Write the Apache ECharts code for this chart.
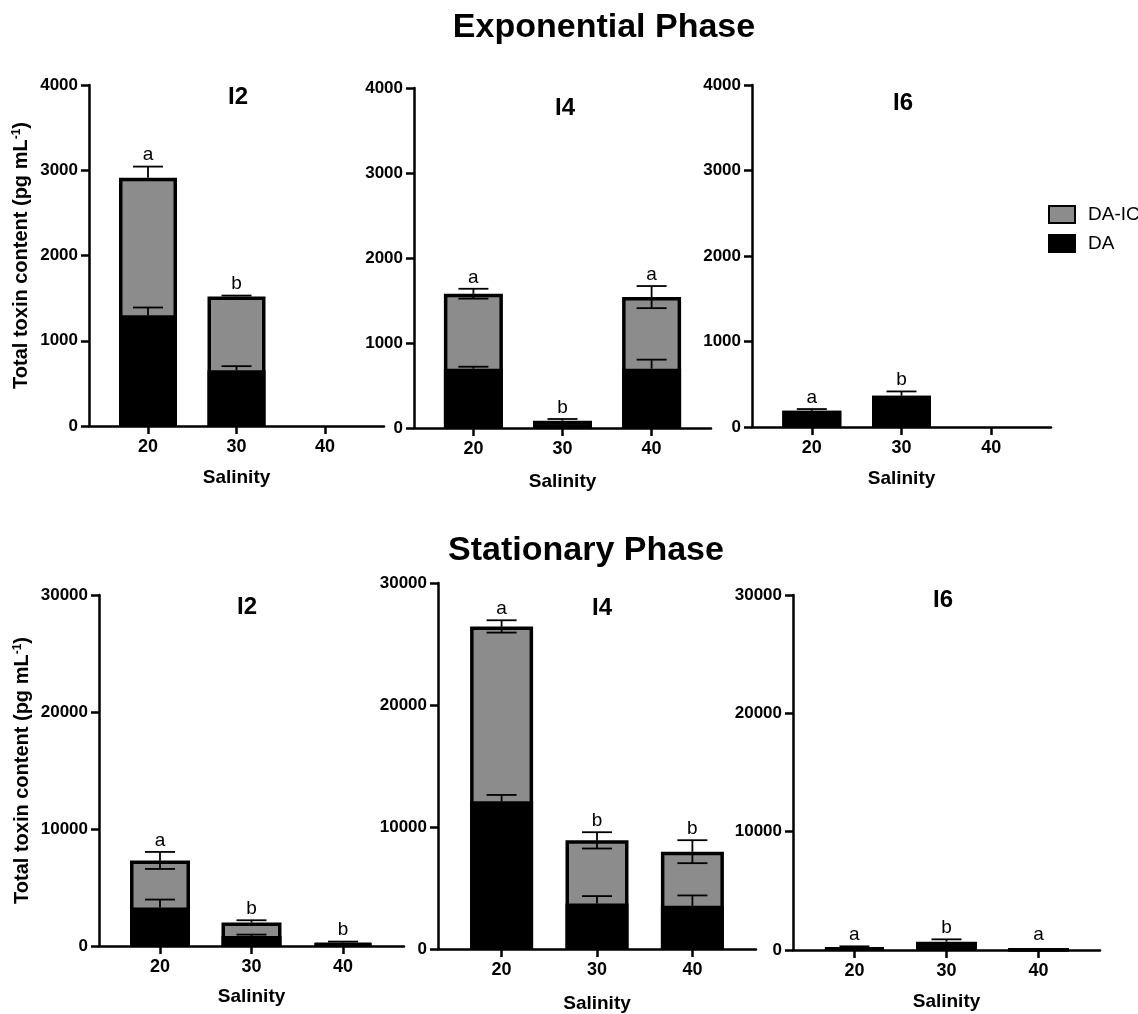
<!DOCTYPE html>
<html><head><meta charset="utf-8">
<script src="https://cdn.jsdelivr.net/npm/echarts@6/dist/echarts.min.js"></script>
<style>html,body{margin:0;padding:0;background:#fff}#c{width:1138px;height:1014px}</style>
</head><body><div id="c"></div>
<script>
// ---------- data ----------
const salinity = [20, 30, 40];
const panelNames = ['I2', 'I4', 'I6'];
const phaseTitles = ['Exponential Phase', 'Stationary Phase'];
const expTicks = [0, 1000, 2000, 3000, 4000];
const statTicks = [0, 10000, 20000, 30000];

// Exponential phase
const expI2_DA = [1300, 655, 0];
const expI2_DAIC = [1613, 865, 0];
const expI2_errUp = [130, 10, 0];
const expI2_errDown = [0, 0, 0];
const expI2_daErr = [90, 47, 0];
const expI2_letters = ['a', 'b', ''];

const expI4_DA = [698, 45, 698];
const expI4_DAIC = [882, 41, 842];
const expI4_errUp = [58, 20, 130];
const expI4_errDown = [58, 0, 130];
const expI4_daErr = [23, 0, 106];
const expI4_letters = ['a', 'b', 'a'];

const expI6_DA = [190, 366, 0];
const expI6_DAIC = [0, 0, 0];
const expI6_errUp = [20, 50, 0];
const expI6_errDown = [0, 0, 0];
const expI6_daErr = [0, 0, 0];
const expI6_letters = ['a', 'b', ''];

// Stationary phase
const statI2_DA = [3285, 855, 230];
const statI2_DAIC = [4028, 1145, 60];
const statI2_errUp = [727, 200, 86];
const statI2_errDown = [727, 0, 0];
const statI2_daErr = [684, 120, 0];
const statI2_letters = ['a', 'b', 'b'];

const statI4_DA = [12109, 3736, 3545];
const statI4_DAIC = [14331, 5169, 4432];
const statI4_errUp = [505, 668, 941];
const statI4_errDown = [505, 668, 941];
const statI4_daErr = [518, 600, 845];
const statI4_letters = ['a', 'b', 'b'];

const statI6_DA = [160, 650, 30];
const statI6_DAIC = [40, 54, 0];
const statI6_errUp = [110, 197, 0];
const statI6_errDown = [0, 0, 0];
const statI6_daErr = [0, 0, 0];
const statI6_letters = ['a', 'b', 'a'];

// ---------- assembly ----------
const panels = [
  {DA: expI2_DA, DAIC: expI2_DAIC, up: expI2_errUp, down: expI2_errDown, daErr: expI2_daErr, letters: expI2_letters, ticks: expTicks},
  {DA: expI4_DA, DAIC: expI4_DAIC, up: expI4_errUp, down: expI4_errDown, daErr: expI4_daErr, letters: expI4_letters, ticks: expTicks},
  {DA: expI6_DA, DAIC: expI6_DAIC, up: expI6_errUp, down: expI6_errDown, daErr: expI6_daErr, letters: expI6_letters, ticks: expTicks},
  {DA: statI2_DA, DAIC: statI2_DAIC, up: statI2_errUp, down: statI2_errDown, daErr: statI2_daErr, letters: statI2_letters, ticks: statTicks},
  {DA: statI4_DA, DAIC: statI4_DAIC, up: statI4_errUp, down: statI4_errDown, daErr: statI4_daErr, letters: statI4_letters, ticks: statTicks},
  {DA: statI6_DA, DAIC: statI6_DAIC, up: statI6_errUp, down: statI6_errDown, daErr: statI6_daErr, letters: statI6_letters, ticks: statTicks}
];

// layout (pixels)
const gridBoxes = [[89, 85, 295, 341], [414, 88, 297, 340], [752, 85, 299, 342],
                   [99, 595, 305, 351], [438, 583, 318, 367], [793, 595, 307, 355]];
const panelTitlePos = [[238, 97], [565, 108], [903, 103], [247, 607], [602, 608], [943, 600]];
const xNameGaps = [42, 44, 42, 41, 45, 42];
const FONT = '"Liberation Sans", Arial, Helvetica, sans-serif';
const GRAY = '#8c8c8c';
const X_MIN = 40 / 3, X_MAX = 140 / 3;

const grid = [], xAxis = [], yAxis = [], series = [], graphic = [];

graphic.push({type: 'text', x: 604, y: 28, style: {text: phaseTitles[0], align: 'center', verticalAlign: 'middle', font: 'bold 34px ' + FONT, fill: '#000'}});
graphic.push({type: 'text', x: 586, y: 551, style: {text: phaseTitles[1], align: 'center', verticalAlign: 'middle', font: 'bold 34px ' + FONT, fill: '#000'}});

panels.forEach((p, i) => {
  const [gl, gt, gw, gh] = gridBoxes[i];
  grid.push({left: gl, top: gt, width: gw, height: gh, containLabel: false});
  const spacing = gw * 10 / (X_MAX - X_MIN);
  const bw = Math.round(spacing * 0.66);
  const maxV = p.ticks[p.ticks.length - 1];
  const step = p.ticks[1] - p.ticks[0];

  xAxis.push({
    type: 'value', gridIndex: i, min: X_MIN, max: X_MAX,
    name: 'Salinity', nameLocation: 'middle', nameGap: xNameGaps[i],
    nameTextStyle: {fontFamily: FONT, fontWeight: 'bold', fontSize: 19, color: '#000'},
    axisLine: {show: true, lineStyle: {color: '#000', width: 2.5}},
    axisTick: {show: true, length: 8, lineStyle: {color: '#000', width: 2.5}, customValues: salinity},
    axisLabel: {show: true, customValues: salinity, margin: 12, fontFamily: FONT, fontWeight: 'bold', fontSize: 18, color: '#000', formatter: v => String(v)},
    splitLine: {show: false}
  });

  const y = {
    type: 'value', gridIndex: i, min: 0, max: maxV, interval: step,
    axisLine: {show: true, lineStyle: {color: '#000', width: 2.5}},
    axisTick: {show: true, length: 8, lineStyle: {color: '#000', width: 2.5}},
    axisLabel: {margin: 11, fontFamily: FONT, fontWeight: 'bold', fontSize: 17, color: '#000', formatter: v => String(v)},
    splitLine: {show: false}
  };
  if (i % 3 === 0) {
    y.name = 'Total toxin content (pg mL{sup|-1})';
    y.nameLocation = 'middle';
    y.nameRotate = 90;
    y.nameGap = i === 0 ? 58 : 67;
    y.nameTextStyle = {fontFamily: FONT, fontWeight: 'bold', fontSize: 20, color: '#000',
      rich: {sup: {fontFamily: FONT, fontWeight: 'bold', fontSize: 12, color: '#000', verticalAlign: 'top'}}};
  }
  yAxis.push(y);

  const totals = salinity.map((s, k) => p.DA[k] + p.DAIC[k]);
  series.push({
    type: 'bar', name: 'DA-IC', xAxisIndex: i, yAxisIndex: i, barWidth: bw, barGap: '-100%',
    data: salinity.map((s, k) => [s, totals[k] > 0 ? totals[k] : '-']),
    itemStyle: {color: GRAY, borderColor: '#000', borderWidth: 3.5}, silent: true
  });
  series.push({
    type: 'bar', name: 'DA', xAxisIndex: i, yAxisIndex: i, barWidth: bw, barGap: '-100%',
    data: salinity.map((s, k) => [s, p.DA[k] > 0 ? p.DA[k] : '-']),
    itemStyle: {color: '#000', borderColor: '#000', borderWidth: 3.5}, silent: true
  });

  // error bars + significance letters
  series.push({
    type: 'custom', name: 'err' + i, xAxisIndex: i, yAxisIndex: i, z: 5, silent: true,
    data: salinity.map((s, k) => [s, totals[k], p.up[k], p.down[k], p.DA[k], p.daErr[k]]),
    encode: {x: 0, y: 1},
    renderItem: (params, api) => {
      const k = params.dataIndex;
      const x = api.value(0), tot = api.value(1), up = api.value(2), dn = api.value(3), da = api.value(4), de = api.value(5);
      const children = [];
      const cap = 15;
      const ls = {stroke: '#000', lineWidth: 1.8};
      function whisker(from, to) {
        const a = api.coord([x, from]), b = api.coord([x, to]);
        children.push({type: 'line', shape: {x1: a[0], y1: a[1], x2: b[0], y2: b[1]}, style: ls});
        children.push({type: 'line', shape: {x1: b[0] - cap, y1: b[1], x2: b[0] + cap, y2: b[1]}, style: ls});
      }
      if (up > 0) whisker(tot, tot + up);
      if (dn > 0) whisker(tot, tot - dn);
      if (de > 0 && p.DAIC[k] > 0) whisker(da, da + de);
      const letter = p.letters[k];
      if (letter) {
        const t = api.coord([x, tot + up]);
        children.push({type: 'text', x: t[0], y: t[1] - (up > 0 ? 2 : 5),
          style: {text: letter, align: 'center', verticalAlign: 'bottom', font: '19px ' + FONT, fill: '#000'}});
      }
      return {type: 'group', children: children};
    }
  });

  graphic.push({type: 'text', x: panelTitlePos[i][0], y: panelTitlePos[i][1],
    style: {text: panelNames[i % 3], align: 'center', verticalAlign: 'middle', font: 'bold 24px ' + FONT, fill: '#000'}});
});

const chart = echarts.init(document.getElementById('c'), null, {renderer: 'canvas'});
chart.setOption({
  animation: false,
  backgroundColor: '#fff',
  grid: grid, xAxis: xAxis, yAxis: yAxis, series: series, graphic: graphic,
  legend: {
    data: ['DA-IC', 'DA'], orient: 'vertical', left: 1043, top: 200, icon: 'rect',
    itemWidth: 26, itemHeight: 17, itemGap: 10, selectedMode: false,
    textStyle: {fontFamily: FONT, fontSize: 19, color: '#000', padding: [0, 0, 0, 8]}
  }
});
</script></body></html>
